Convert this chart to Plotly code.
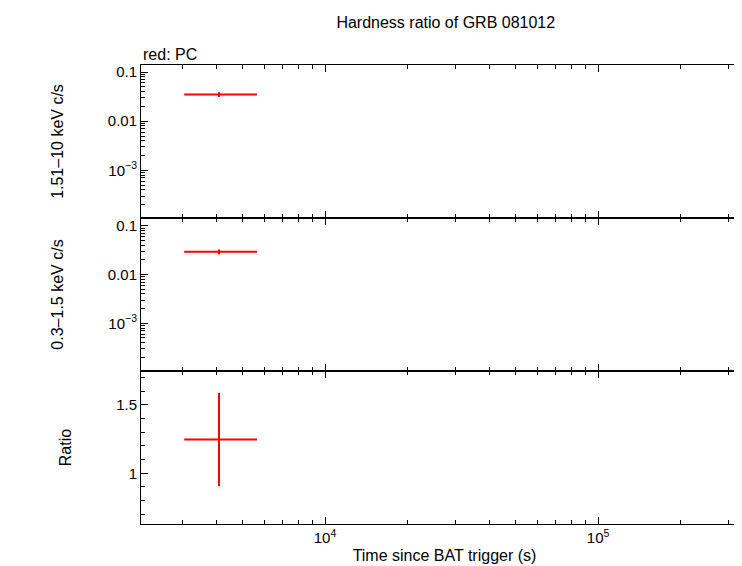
import plotly.graph_objects as go
from plotly.subplots import make_subplots

# data
t_mid = [4090]
t_lo = [3050]
t_hi = [5640]
hard_rate = [0.0351]
hard_err = [0.004]
soft_rate = [0.0295]
soft_err = [0.0035]
ratio = [1.246]
ratio_up = [0.341]
ratio_dn = [0.340]

red = "#ff0000"
fig = make_subplots(rows=3, cols=1, shared_xaxes=True, vertical_spacing=0)

xerr = dict(type="data", symmetric=False,
            array=[h - m for h, m in zip(t_hi, t_mid)],
            arrayminus=[m - l for m, l in zip(t_mid, t_lo)],
            color=red, thickness=2, width=0)

fig.add_trace(go.Scatter(x=t_mid, y=hard_rate, mode="markers", marker=dict(size=1, color=red),
                         error_x=xerr, error_y=dict(type="data", array=hard_err, color=red, thickness=2, width=0)),
              row=1, col=1)
fig.add_trace(go.Scatter(x=t_mid, y=soft_rate, mode="markers", marker=dict(size=1, color=red),
                         error_x=xerr, error_y=dict(type="data", array=soft_err, color=red, thickness=2, width=0)),
              row=2, col=1)
fig.add_trace(go.Scatter(x=t_mid, y=ratio, mode="markers", marker=dict(size=1, color=red),
                         error_x=xerr, error_y=dict(type="data", symmetric=False, array=ratio_up,
                                                    arrayminus=ratio_dn, color=red, thickness=2, width=0)),
              row=3, col=1)

x_minor = [m * 10 ** e for e in (3, 4, 5) for m in range(2, 10)]
y_minor = [m * 10 ** e for e in (-4, -3, -2, -1) for m in range(2, 10)]
r_minor = [0.7, 0.8, 0.9, 1.1, 1.2, 1.3, 1.4, 1.6, 1.7]

ax = dict(showline=True, linecolor="black", linewidth=1, mirror="allticks", ticks="inside",
          ticklen=7, tickcolor="black", showgrid=False, zeroline=False, automargin=False,
          tickfont=dict(size=15, color="black"))
for r in (1, 2, 3):
    fig.update_xaxes(type="log", range=[3.326, 5.549], tickmode="array", tickvals=[1e4, 1e5],
                     ticktext=["10<sup>4</sup>", "10<sup>5</sup>"],
                     minor=dict(tickmode="array", tickvals=x_minor, ticks="inside", ticklen=4, tickcolor="black"),
                     showticklabels=(r == 3), row=r, col=1, **ax)
logy = dict(type="log", tickmode="array", tickvals=[0.1, 0.01, 0.001], ticktext=["0.1", "0.01", "10<sup>−3</sup>"],
            minor=dict(tickmode="array", tickvals=y_minor, ticks="inside", ticklen=4, tickcolor="black"))
fig.update_yaxes(range=[-3.97, -0.856], row=1, col=1, **logy, **ax)
fig.update_yaxes(range=[-3.98, -0.837], row=2, col=1, **logy, **ax)
fig.update_yaxes(range=[0.63, 1.746], tickmode="array", tickvals=[1, 1.5], ticktext=["1", "1.5"],
                 minor=dict(tickmode="array", tickvals=r_minor, ticks="inside", ticklen=4, tickcolor="black"),
                 row=3, col=1, **ax)

fig.update_yaxes(title_text="1.51–10 keV c/s", title_font=dict(size=16), title_standoff=40, row=1, col=1)
fig.update_yaxes(title_text="0.3–1.5 keV c/s", title_font=dict(size=16), title_standoff=40, row=2, col=1)
fig.update_yaxes(title_text="Ratio", title_font=dict(size=16), title_standoff=40, row=3, col=1)
fig.update_xaxes(title_text="Time since BAT trigger (s)", title_font=dict(size=16), title_standoff=4, row=3, col=1)

fig.update_layout(
    width=742, height=566, showlegend=False,
    plot_bgcolor="white", paper_bgcolor="white",
    font=dict(family="Liberation Sans, Arial, sans-serif", color="black", size=15),
    margin=dict(l=133, r=2, t=57, b=50),
    title=dict(text="Hardness ratio of GRB 081012", x=0.59, xanchor="center", y=0.985, yanchor="top",
               font=dict(size=16)),
    annotations=[dict(text="red: PC", xref="paper", yref="paper", x=0, y=1.0, xanchor="left",
                      yanchor="bottom", showarrow=False, font=dict(size=16))],
)
fig.write_html("out.html")
